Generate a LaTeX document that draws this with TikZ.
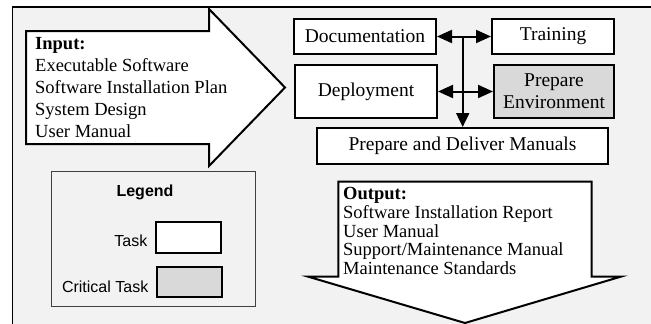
\documentclass[tikz,border=0pt]{standalone}
\usepackage{fontspec}
\setmainfont{Liberation Serif}
\newfontfamily\legfont{Liberation Sans}
\usetikzlibrary{arrows.meta}
\definecolor{bggray}{HTML}{F2F2F2}
\definecolor{critgray}{HTML}{D9D9D9}
\definecolor{legline}{HTML}{404040}
\tikzset{
  taskbox/.style={draw=black, line width=2pt, fill=white, inner sep=0pt},
  critbox/.style={taskbox, fill=critgray},
  boxtext/.style={font=\fontsize{19.5}{21.7}\selectfont, align=center},
  bigarrow/.style={draw=black, line width=2pt, fill=white, line join=miter},
  iotext/.style={anchor=base west, inner sep=0pt, font=\fontsize{18.5}{22}\selectfont},
  legtext/.style={inner sep=0pt, font=\legfont\fontsize{16}{19}\selectfont},
  link/.style={line width=2pt, {Triangle[length=15pt,width=13pt]}-{Triangle[length=15pt,width=13pt]}},
  downlink/.style={line width=2pt, -{Triangle[length=14pt,width=13pt]}},
}
\begin{document}
\begin{tikzpicture}[x=1pt,y=-1pt]
\useasboundingbox (0,0) rectangle (651,324);
% background frame
\fill[white] (0,0) rectangle (651,324);
\fill[bggray] (12.5,7) rectangle (651,324);
\draw[line width=1.5pt] (12.5,324) -- (12.5,7) -- (651,7);

% input arrow
\draw[bigarrow] (26,31) -- (209,31) -- (209,9) -- (285,87.5) -- (209,166) -- (209,144) -- (26,144) -- cycle;
\node[iotext] (in0) at (35,49) {\textbf{Input:}};
\node[iotext] (in1) at (35,71.5) {Executable Software};
\node[iotext] (in2) at (35,93.3) {Software Installation Plan};
\node[iotext] (in3) at (35,115) {System Design};
\node[iotext] (in4) at (35,137) {User Manual};

% output arrow
\draw[bigarrow] (338.3,181.7) -- (591.7,181.7) -- (591.7,276.7) -- (620.7,276.7) -- (465,323) -- (308.3,276.7) -- (338.3,276.7) -- cycle;
\node[iotext] (out0) at (343,199.3) {\textbf{Output:}};
\node[iotext] (out1) at (343,218.5) {Software Installation Report};
\node[iotext] (out2) at (343,237.2) {User Manual};
\node[iotext] (out3) at (343,255.9) {Support/Maintenance Manual};
\node[iotext] (out4) at (343,274.3) {Maintenance Standards};

% task boxes
\node[taskbox, minimum width=142pt, minimum height=35pt, boxtext] (doc) at (365,36.5) {Documentation};
\node[taskbox, minimum width=122pt, minimum height=35pt, boxtext] (train) at (553,36.5) {Training};
\node[taskbox, minimum width=142pt, minimum height=53pt, boxtext] (deploy) at (366,91.5) {Deployment};
\node[critbox, minimum width=120pt, minimum height=53pt, boxtext] (prepenv) at (554,91.5) {Prepare\\Environment};
\node[taskbox, minimum width=291pt, minimum height=36pt, boxtext] (manuals) at (462.5,146) {Prepare and Deliver Manuals};

% connectors
\draw[link] (doc.east) -- (train.west);
\draw[link] (deploy.east) -- (prepenv.west);
\coordinate (j) at (462.7,36.5);
\draw[downlink] (j) -- (j |- manuals.north);

% legend
\node[draw=legline, line width=1pt, fill=bggray, minimum width=203.3pt, minimum height=135pt, inner sep=0pt] (legend) at (153.4,239.2) {};
\node[legtext, anchor=base, font=\legfont\bfseries\fontsize{16}{19}\selectfont] (legtitle) at (145,196.7) {Legend};
\node[legtext, anchor=base east] (tasklbl) at (147.5,246.7) {Task};
\node[legtext, anchor=base east] (critlbl) at (148.5,292.3) {Critical Task};
\node[taskbox, minimum width=65pt, minimum height=31pt] (taskkey) at (188.4,237.5) {};
\node[critbox, minimum width=65pt, minimum height=30.6pt] (critkey) at (189.2,282) {};
\end{tikzpicture}
\end{document}
